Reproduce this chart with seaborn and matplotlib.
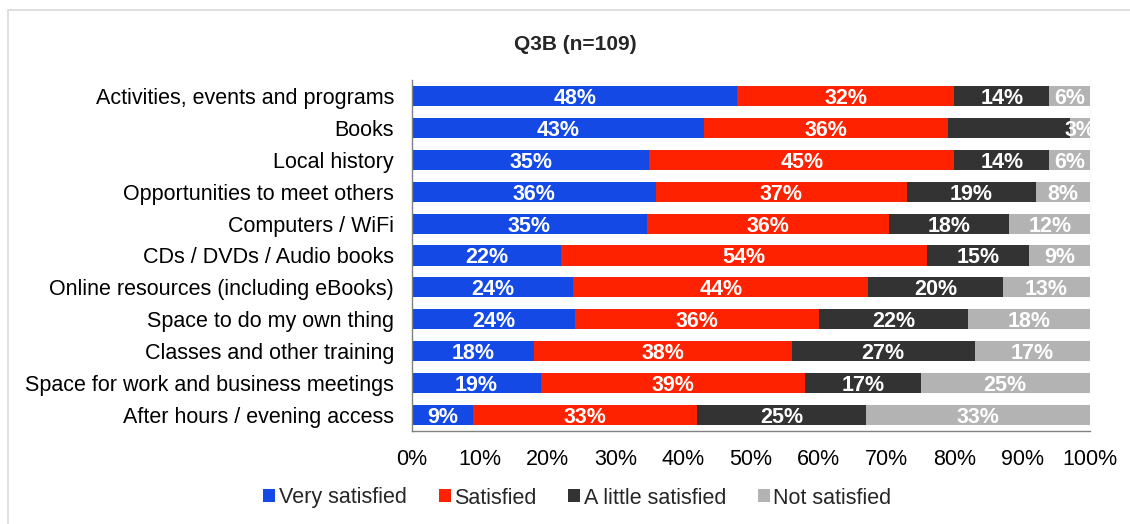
import matplotlib
matplotlib.use("Agg")
import matplotlib.pyplot as plt
import seaborn as sns
import numpy as np
import pandas as pd
from matplotlib.patches import Rectangle, Patch

categories = [
    "Activities, events and programs",
    "Books",
    "Local history",
    "Opportunities to meet others",
    "Computers / WiFi",
    "CDs / DVDs / Audio books",
    "Online resources (including eBooks)",
    "Space to do my own thing",
    "Classes and other training",
    "Space for work and business meetings",
    "After hours / evening access",
]
very_satisfied = [48, 43, 35, 36, 35, 22, 24, 24, 18, 19, 9]
satisfied = [32, 36, 45, 37, 36, 54, 44, 36, 38, 39, 33]
little_satisfied = [14, 18, 14, 19, 18, 15, 20, 22, 27, 17, 25]
not_satisfied = [6, 3, 6, 8, 12, 9, 13, 18, 17, 25, 33]
series_names = ["Very satisfied", "Satisfied", "A little satisfied", "Not satisfied"]
colors = ["#1449E6", "#FF2200", "#333333", "#B3B3B3"]
hidden_labels = {(2, 1)}  # label not shown in reference (Books, A little satisfied)

sns.set_theme(style="white")
plt.rcParams["font.family"] = ["Liberation Sans", "DejaVu Sans"]

series = [very_satisfied, satisfied, little_satisfied, not_satisfied]
raw = np.array(series, dtype=float)
totals = raw.sum(axis=0)
pct = raw / totals * 100.0
lefts = np.vstack([np.zeros(len(categories)), np.cumsum(pct, axis=0)[:-1]])

fig = plt.figure(figsize=(11.3, 5.24), dpi=100)
ax = fig.add_axes([412 / 1130, 1 - 431 / 524, 678 / 1130, 351 / 524])

for i, name in enumerate(series_names):
    df = pd.DataFrame({"cat": categories, "val": pct[i]})
    sns.barplot(data=df, x="val", y="cat", color=colors[i], ax=ax,
                width=0.63, orient="h", saturation=1, edgecolor="none", linewidth=0)
    cont = ax.containers[-1]
    for j, p in enumerate(cont.patches):
        p.set_x(lefts[i][j])
    labels = []
    for j in range(len(categories)):
        if (i, j) in hidden_labels:
            labels.append("")
        else:
            labels.append(f"{series[i][j]}%")
    texts = ax.bar_label(cont, labels=labels, label_type="center", color="white",
                         fontsize=15.5, fontweight="bold",
                         family=["Liberation Sans Narrow", "Liberation Sans", "DejaVu Sans"])
    for t in texts:
        t.set_va("center_baseline")

ax.set_xlim(0, 100)
ax.set_ylim(len(categories) - 0.5, -0.5)
ax.set_xticks(np.arange(0, 101, 10))
ax.set_xticklabels([f"{v}%" for v in range(0, 101, 10)], fontsize=15.5, color="black")
ax.set_yticks(range(len(categories)))
ax.set_yticklabels(categories, fontsize=15.5, color="black")
ax.set_yticks(np.arange(-0.5, len(categories), 1), minor=True)
ax.tick_params(axis="y", which="major", length=0, pad=13)
ax.tick_params(axis="y", which="minor", length=5, color="#808080", width=1, direction="out")
ax.tick_params(axis="x", which="major", length=5, color="#808080", width=1, direction="out", pad=8)
ax.set_xlabel("")
ax.set_ylabel("")
ax.grid(False)
for s in ["top", "right"]:
    ax.spines[s].set_visible(False)
for s in ["left", "bottom"]:
    ax.spines[s].set_color("#808080")
    ax.spines[s].set_linewidth(1)

fig.text(0.509, 1 - 44 / 524, "Q3B (n=109)", ha="center", va="center",
         fontsize=15, fontweight="bold")

handles = [Patch(facecolor=c, edgecolor="none") for c in colors]
fig.legend(handles, series_names, loc="center", bbox_to_anchor=(0.511, 1 - 498 / 524),
           ncol=4, frameon=False, fontsize=15.5, handlelength=0.55, handleheight=0.55,
           handletextpad=0.15, columnspacing=1.5)

fig.patches.append(Rectangle((8 / 1130, -0.05), 1.2, 1 - 10 / 524 + 0.05,
                             transform=fig.transFigure, fill=False,
                             edgecolor="#D9D9D9", linewidth=1.2))

fig.savefig("out.png", dpi=100, facecolor="white")
